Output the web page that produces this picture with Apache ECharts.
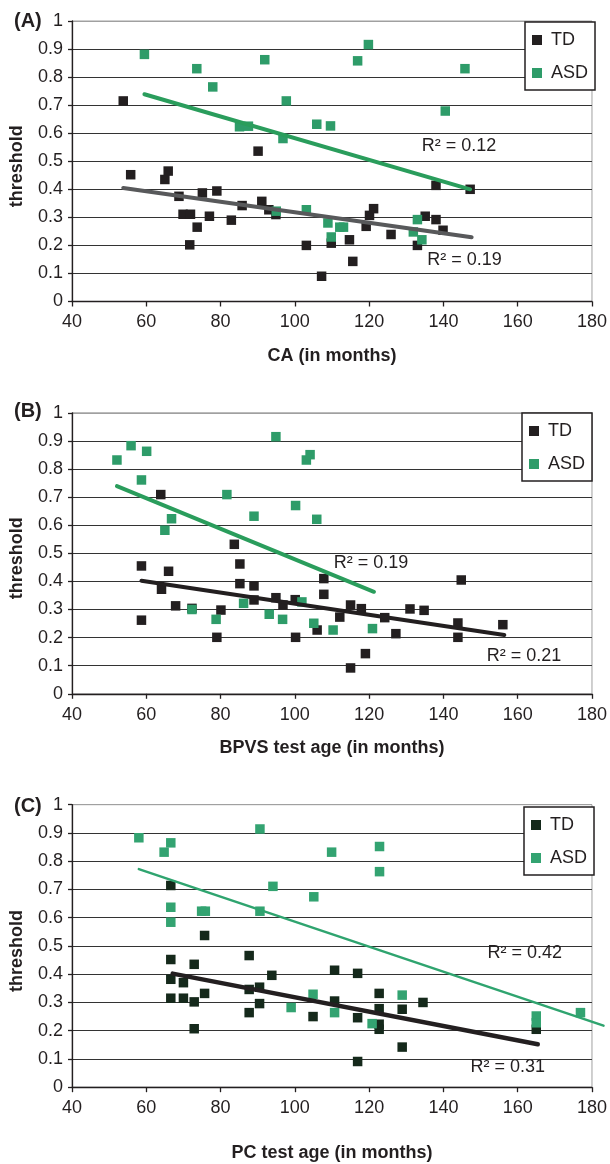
<!DOCTYPE html>
<html><head><meta charset="utf-8">
<script src="https://cdn.jsdelivr.net/npm/echarts@6/dist/echarts.min.js"></script>
<style>html,body{margin:0;padding:0;background:#fff}#c{width:610px;height:1164px}</style>
</head><body><div id="c"></div>
<script>
// ---------- data ----------
const panelLabels = ['(A)', '(B)', '(C)'];
const xTitles = ['CA (in months)', 'BPVS test age (in months)', 'PC test age (in months)'];
const yTitle = 'threshold';
const seriesNames = ['TD', 'ASD'];

const tdA = [[53.8,0.715],[55.8,0.452],[65.0,0.435],[65.9,0.465],[68.8,0.375],[69.9,0.311],[71.9,0.311],[71.7,0.202],[73.7,0.265],[75.1,0.387],[77.0,0.304],[79.0,0.394],[82.9,0.290],[85.8,0.342],[90.1,0.536],[91.1,0.357],[93.0,0.327],[94.9,0.310],[103.1,0.200],[107.2,0.090],[109.8,0.208],[114.7,0.220],[115.6,0.143],[119.2,0.268],[120.1,0.307],[121.2,0.331],[125.9,0.239],[133.0,0.200],[135.1,0.304],[138.0,0.292],[138.0,0.414],[139.9,0.254],[147.2,0.400]];
const asdA = [[59.5,0.881],[73.6,0.830],[77.9,0.765],[85.1,0.623],[87.5,0.625],[91.9,0.862],[95.0,0.322],[96.8,0.581],[97.7,0.715],[103.1,0.327],[105.9,0.632],[108.9,0.280],[109.6,0.626],[109.8,0.230],[112.1,0.265],[113.1,0.265],[116.9,0.858],[119.8,0.916],[131.9,0.248],[133.0,0.292],[134.2,0.220],[140.5,0.679],[145.8,0.830]];
const tdFitA = [[53.8,0.405],[147.6,0.229]];
const asdFitA = [[59.5,0.739],[147.2,0.400]];
const r2A = [[144.2,0.554,'R² = 0.12'],[145.7,0.148,'R² = 0.19']];

const tdB = [[63.9,0.709],[58.7,0.455],[58.7,0.262],[64.1,0.372],[66.0,0.436],[67.9,0.313],[72.3,0.304],[79.0,0.201],[80.1,0.298],[83.7,0.532],[85.2,0.462],[85.2,0.392],[89.0,0.384],[89.0,0.334],[94.9,0.342],[96.8,0.316],[100.1,0.335],[100.2,0.201],[106.0,0.227],[107.8,0.410],[107.8,0.354],[112.1,0.273],[115.0,0.316],[117.9,0.303],[115.0,0.092],[119.0,0.143],[124.2,0.271],[127.2,0.214],[131.0,0.302],[134.8,0.297],[143.9,0.252],[143.9,0.201],[144.8,0.405],[156.0,0.246]];
const asdB = [[52.1,0.832],[55.9,0.883],[60.1,0.863],[58.7,0.761],[65.0,0.582],[66.8,0.623],[72.3,0.300],[78.8,0.265],[81.7,0.709],[86.2,0.322],[89.0,0.632],[93.1,0.283],[94.9,0.915],[96.7,0.265],[100.2,0.670],[101.9,0.327],[103.1,0.832],[104.1,0.851],[105.1,0.251],[105.9,0.621],[110.3,0.227],[120.9,0.232]];
const tdFitB = [[58.7,0.402],[156.4,0.209]];
const asdFitB = [[52.1,0.739],[121.3,0.363]];
const r2B = [[120.5,0.464,'R² = 0.19'],[161.7,0.136,'R² = 0.21']];

const tdC = [[66.6,0.714],[75.7,0.537],[66.6,0.452],[66.6,0.382],[66.6,0.315],[70.0,0.370],[70.0,0.315],[72.9,0.435],[72.9,0.302],[72.9,0.207],[75.7,0.332],[87.7,0.466],[87.7,0.346],[87.7,0.264],[90.5,0.354],[90.5,0.296],[93.8,0.396],[104.9,0.250],[110.7,0.414],[110.7,0.305],[116.9,0.403],[116.9,0.246],[116.9,0.091],[122.7,0.332],[122.7,0.278],[122.7,0.223],[122.7,0.205],[128.9,0.276],[128.9,0.142],[134.5,0.300],[165.0,0.205]];
const asdC = [[58.0,0.883],[64.8,0.832],[66.6,0.865],[66.6,0.637],[66.6,0.584],[74.9,0.623],[75.9,0.623],[90.6,0.914],[90.6,0.623],[94.1,0.711],[99.0,0.282],[105.1,0.674],[104.9,0.329],[109.9,0.832],[110.7,0.264],[120.8,0.225],[122.8,0.852],[122.8,0.763],[128.9,0.326],[165.0,0.252],[165.0,0.228],[176.9,0.264]];
const tdFitC = [[67.1,0.402],[165.4,0.152]];
const asdFitC = [[58.0,0.772],[183.1,0.218]];
const r2C = [[161.9,0.476,'R² = 0.42'],[157.3,0.070,'R² = 0.31']];

// ---------- styling / layout ----------
const FONT = 'Liberation Sans, Arial, Helvetica, sans-serif';
const TXT = '#231f20';
const panels = [
  {td: tdA, asd: asdA, tdFit: tdFitA, asdFit: asdFitA, r2: r2A,
   grid: {left: 71, right: 16.3, top: 21, height: 280.5}, xGap: 46, legend: {left: 525, top: 22}, labelTop: 11,
   tdColor: '#231f20', asdColor: '#2e9c69', tdLine: '#58595b', asdLine: '#2a9d5c', tdW: 4, asdW: 4},
  {td: tdB, asd: asdB, tdFit: tdFitB, asdFit: asdFitB, r2: r2B,
   grid: {left: 70, right: 17, top: 412.8, height: 281}, xGap: 45.5, legend: {left: 522, top: 413}, labelTop: 401,
   tdColor: '#231f20', asdColor: '#2e9c69', tdLine: '#231f20', asdLine: '#2a9d5c', tdW: 4, asdW: 4},
  {td: tdC, asd: asdC, tdFit: tdFitC, asdFit: asdFitC, r2: r2C,
   grid: {left: 70.2, right: 16.7, top: 804.7, height: 282.5}, xGap: 56.5, legend: {left: 524, top: 807}, labelTop: 796,
   tdColor: '#15291b', asdColor: '#33a371', tdLine: '#231f20', asdLine: '#2fa46f', tdW: 4.5, asdW: 2.5}
];

const grids = [], xAxes = [], yAxes = [], legends = [], titles = [], series = [];
const splitColors = ['#333','#333','#333','#333','#333','#333','#333','#333','#333','#333','#a0a0a0'];

// fit line drawn by a custom series (unclipped, so it may run past the plot edge like the reference)
function fitSeries(name, i, pts, color, width, z) {
  return {
    name: name, type: 'custom', xAxisIndex: i, yAxisIndex: i, data: pts, silent: true, z: z, clip: false,
    renderItem: function (params, api) {
      if (params.dataIndex !== 0) return null;
      const coords = pts.map(p => api.coord(p));
      return {type: 'polyline', shape: {points: coords},
        style: {stroke: color, lineWidth: width, fill: null, lineCap: 'round'}};
    }
  };
}

panels.forEach((p, i) => {
  grids.push(Object.assign({show: true, borderColor: '#a0a0a0', borderWidth: 1, backgroundColor: 'transparent'}, p.grid));
  xAxes.push({
    type: 'value', gridIndex: i, min: 40, max: 180, interval: 20,
    name: xTitles[i], nameLocation: 'middle', nameGap: p.xGap,
    nameTextStyle: {fontFamily: FONT, fontSize: 18, fontWeight: 'bold', color: TXT},
    axisLine: {show: true, onZero: false, lineStyle: {color: '#231f20', width: 1.3}},
    axisTick: {show: true, length: 5, lineStyle: {color: '#231f20', width: 1.3}},
    axisLabel: {fontFamily: FONT, fontSize: 18, color: TXT, margin: 12},
    splitLine: {show: false}
  });
  yAxes.push({
    type: 'value', gridIndex: i, min: 0, max: 1, interval: 0.1,
    name: yTitle, nameLocation: 'middle', nameGap: 46, nameRotate: 90,
    nameTextStyle: {fontFamily: FONT, fontSize: 18, fontWeight: 'bold', color: TXT, padding: [0, 10, 0, 0]},
    axisLine: {show: true, lineStyle: {color: '#231f20', width: 1.3}},
    axisTick: {show: true, length: 4, lineStyle: {color: '#231f20', width: 1.3}},
    axisLabel: {fontFamily: FONT, fontSize: 18, color: TXT, margin: 9,
      formatter: v => String(+v.toFixed(1))},
    splitLine: {show: true, lineStyle: {color: splitColors, width: 1}}
  });
  legends.push({
    left: p.legend.left, top: p.legend.top, orient: 'vertical',
    icon: 'rect', itemWidth: 10, itemHeight: 10, itemGap: 15,
    padding: [9, 7, 8, 7], borderColor: '#231f20', borderWidth: 1.5, backgroundColor: '#fff',
    selectedMode: false, z: 10,
    textStyle: {fontFamily: FONT, fontSize: 18, color: TXT, lineHeight: 18, padding: [0, 0, 0, 4]},
    data: [{name: seriesNames[0], itemStyle: {color: p.tdColor, opacity: 1}},
           {name: seriesNames[1], itemStyle: {color: p.asdColor, opacity: 1}}]
  });
  titles.push({text: panelLabels[i], left: 14, top: p.labelTop, padding: 0,
    textStyle: {fontFamily: FONT, fontSize: 20, fontWeight: 'bold', color: TXT}});

  series.push({
    name: seriesNames[0], type: 'scatter', xAxisIndex: i, yAxisIndex: i,
    symbol: 'rect', symbolSize: 9.5, data: p.td, z: 2,
    itemStyle: {color: p.tdColor, opacity: 1}, emphasis: {disabled: true}
  });
  series.push({
    name: seriesNames[1], type: 'scatter', xAxisIndex: i, yAxisIndex: i,
    symbol: 'rect', symbolSize: 9.5, data: p.asd, z: 3,
    itemStyle: {color: p.asdColor, opacity: 1}, emphasis: {disabled: true}
  });
  series.push(fitSeries('TD fit', i, p.tdFit, p.tdLine, p.tdW, 4));
  series.push(fitSeries('ASD fit', i, p.asdFit, p.asdLine, p.asdW, 5));
  series.push({
    name: 'R2', type: 'scatter', xAxisIndex: i, yAxisIndex: i, symbolSize: 0, silent: true, z: 6,
    itemStyle: {opacity: 1},
    data: p.r2.map(d => ({value: [d[0], d[1]], name: d[2]})),
    label: {show: true, position: 'inside', formatter: '{b}', fontFamily: FONT, fontSize: 18, color: TXT, opacity: 1}
  });
});

const chart = echarts.init(document.getElementById('c'), null, {renderer: 'canvas'});
chart.setOption({
  animation: false,
  backgroundColor: '#fff',
  title: titles, grid: grids, xAxis: xAxes, yAxis: yAxes, legend: legends, series: series
});
</script></body></html>
